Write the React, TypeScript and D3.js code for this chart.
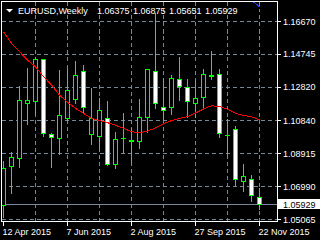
import React from "react";
import * as d3 from "d3";

const symbolTitle = "EURUSD,Weekly";

const weeks = [
  "2015-04-12", "2015-04-19", "2015-04-26", "2015-05-03", "2015-05-10", "2015-05-17",
  "2015-05-24", "2015-05-31", "2015-06-07", "2015-06-14", "2015-06-21", "2015-06-28",
  "2015-07-05", "2015-07-12", "2015-07-19", "2015-07-26", "2015-08-02", "2015-08-09",
  "2015-08-16", "2015-08-23", "2015-08-30", "2015-09-06", "2015-09-13", "2015-09-20",
  "2015-09-27", "2015-10-04", "2015-10-11", "2015-10-18", "2015-10-25", "2015-11-01",
  "2015-11-08", "2015-11-15", "2015-11-22",
];

const openPrices = [
  1.0590, 1.0819, 1.0862, 1.1185, 1.1196, 1.1443, 1.1003, 1.0980, 1.1097, 1.1208,
  1.1374, 1.1003, 1.0991, 1.1097, 1.0827, 1.0979, 1.0971, 1.0964, 1.1106, 1.1374,
  1.1165, 1.1161, 1.1325, 1.1278, 1.1185, 1.1220, 1.1353, 1.1356, 1.0998, 1.1032,
  1.0729, 1.0739, 1.06375,
];
const highPrices = [
  1.0848, 1.0898, 1.1286, 1.1390, 1.1458, 1.1446, 1.1009, 1.1380, 1.1390, 1.1433,
  1.1409, 1.1276, 1.1214, 1.1200, 1.1015, 1.1126, 1.1038, 1.1208, 1.1386, 1.1712,
  1.1331, 1.1351, 1.1458, 1.1325, 1.1321, 1.1384, 1.1491, 1.1384, 1.1091, 1.1052,
  1.0829, 1.0764, 1.06875,
];
const lowPrices = [
  1.0520, 1.0657, 1.0813, 1.1062, 1.1124, 1.0995, 1.0813, 1.0886, 1.1087, 1.1185,
  1.1135, 1.0946, 1.0915, 1.0825, 1.0807, 1.0892, 1.0842, 1.0921, 1.1015, 1.1155,
  1.1087, 1.1120, 1.1204, 1.1106, 1.1106, 1.1165, 1.1325, 1.0989, 1.0888, 1.0706,
  1.0672, 1.0614, 1.05651,
];
const closePrices = [
  1.0804, 1.0870, 1.1202, 1.1202, 1.1443, 1.1012, 1.0985, 1.1114, 1.1261, 1.1351,
  1.1161, 1.1097, 1.1144, 1.0827, 1.0975, 1.0980, 1.0966, 1.1106, 1.1384, 1.1185,
  1.1144, 1.1331, 1.1284, 1.1200, 1.1214, 1.1356, 1.1342, 1.1009, 1.0997, 1.0741,
  1.0759, 1.0647, 1.05929,
];

const maValues = [
  1.1604, 1.1536, 1.1487, 1.1438, 1.1399, 1.1341, 1.1292, 1.1233, 1.1191, 1.1155,
  1.1126, 1.1097, 1.1083, 1.1071, 1.1056, 1.1038, 1.1018, 1.1012, 1.1022, 1.1040,
  1.1065, 1.1083, 1.1097, 1.1106, 1.1128, 1.1151, 1.1171, 1.1165, 1.1151, 1.1126,
  1.1114, 1.1106, 1.1087,
];

const blueWeeks = ["2015-11-15", "2015-11-22"];
const blueValues = [1.1788, 1.1751];

const priceTicks = [1.1667, 1.14745, 1.1282, 1.1084, 1.08915, 1.0699, 1.05065];
const dateTickWeeks = ["2015-04-12", "2015-06-07", "2015-08-02", "2015-09-27", "2015-11-22"];
const dateTickLabels = ["12 Apr 2015", "7 Jun 2015", "2 Aug 2015", "27 Sep 2015", "22 Nov 2015"];
const gridWeeks = [
  "2015-05-10", "2015-06-07", "2015-07-05", "2015-08-02",
  "2015-08-30", "2015-09-27", "2015-10-25", "2015-11-22",
];

const W = 320;
const H = 240;
const L = 1.5;
const T = 1.5;
const R = 277.5;
const B = 221.5;
const FONT = "'Liberation Sans', Arial, sans-serif";
const GRID = "#778899";
const CANDLE = "#00ff00";

export default function App() {
  const x = d3.scalePoint<string>().domain(weeks).range([3, 259]);
  const y = d3.scaleLinear().domain([1.05065, 1.1667]).range([219, 21]);
  const px = (v: number) => Math.round(v) + 0.5;

  const maLine = d3
    .line<number>()
    .x((_, i) => px(x(weeks[i]) as number))
    .y((d) => y(d));
  const blueLine = d3
    .line<number>()
    .x((_, i) => px(x(blueWeeks[i]) as number))
    .y((d) => y(d));

  const last = weeks.length - 1;
  const lastPrice = closePrices[last];
  const ohlc = [openPrices[last], highPrices[last], lowPrices[last], closePrices[last]];

  return (
    <svg
      width={W}
      height={H}
      style={{ position: "absolute", left: 0, top: 0, display: "block", background: "#000" }}
    >
      <defs>
        <clipPath id="plot">
          <rect x={2} y={2} width={275} height={219} />
        </clipPath>
      </defs>
      <rect x={0} y={0} width={W} height={H} fill="#000" />

      {/* grid */}
      <g shapeRendering="crispEdges">
        {priceTicks.map((p) => (
          <line
            key={"h" + p}
            x1={L}
            x2={R}
            y1={px(y(p))}
            y2={px(y(p))}
            stroke={GRID}
            strokeDasharray="4,3"
          />
        ))}
        {gridWeeks.map((w) => (
          <line
            key={"v" + w}
            x1={px(x(w) as number)}
            x2={px(x(w) as number)}
            y1={T}
            y2={B}
            stroke={GRID}
            strokeDasharray="4,3"
          />
        ))}
        <line x1={L} x2={R} y1={px(y(lastPrice))} y2={px(y(lastPrice))} stroke={GRID} />
      </g>

      {/* candles */}
      <g clipPath="url(#plot)" shapeRendering="crispEdges">
        {weeks.map((w, i) => {
          const cx = Math.round(x(w) as number);
          const o = openPrices[i];
          const c = closePrices[i];
          const top = Math.round(y(Math.max(o, c)));
          const bot = Math.round(y(Math.min(o, c)));
          const bull = c >= o;
          return (
            <g key={w}>
              <line
                x1={cx + 0.5}
                x2={cx + 0.5}
                y1={Math.round(y(highPrices[i]))}
                y2={Math.round(y(lowPrices[i])) + 1}
                stroke={CANDLE}
              />
              {bot - top >= 1 ? (
                <rect
                  x={cx - 2 + 0.5}
                  y={top + 0.5}
                  width={4}
                  height={bot - top}
                  fill={bull ? "#000" : "#fff"}
                  stroke={CANDLE}
                />
              ) : (
                <line x1={cx - 2} x2={cx + 3} y1={top + 0.5} y2={top + 0.5} stroke={CANDLE} />
              )}
            </g>
          );
        })}
      </g>

      {/* moving averages */}
      <g clipPath="url(#plot)">
        <path d={maLine(maValues) || ""} fill="none" stroke="#ff0000" strokeWidth={1} shapeRendering="crispEdges" />
        <path d={blueLine(blueValues) || ""} fill="none" stroke="#1a3cff" strokeWidth={1} shapeRendering="crispEdges" />
      </g>

      {/* frame */}
      <rect x={L} y={T} width={R - L} height={B - T} fill="none" stroke="#fff" shapeRendering="crispEdges" />

      {/* right axis */}
      <g fontFamily={FONT} fontSize={9} fill="#fff">
        {priceTicks.map((p) => (
          <g key={"t" + p}>
            <line x1={R} x2={281} y1={px(y(p))} y2={px(y(p))} stroke="#fff" shapeRendering="crispEdges" />
            <text x={283} y={y(p) + 3.5}>
              {p.toFixed(5)}
            </text>
          </g>
        ))}
        <rect x={278} y={Math.round(y(lastPrice)) - 5} width={42} height={10} fill="#fff" />
        <text x={283} y={y(lastPrice) + 3.3} fill="#000">
          {lastPrice.toFixed(5)}
        </text>
      </g>

      {/* bottom axis */}
      <g fontFamily={FONT} fontSize={9} fill="#fff">
        {dateTickWeeks.map((w, i) => (
          <g key={"d" + w}>
            <line
              x1={px(x(w) as number)}
              x2={px(x(w) as number)}
              y1={B}
              y2={226}
              stroke="#fff"
              shapeRendering="crispEdges"
            />
            <text x={(x(w) as number) - 0.5} y={235}>
              {dateTickLabels[i]}
            </text>
          </g>
        ))}
      </g>

      {/* title */}
      <path d="M6,9 L13,9 L9.5,12.5 Z" fill="#fff" />
      <g fontFamily={FONT} fontSize={9} fill="#fff">
        <text x={18} y={14}>
          {symbolTitle}
        </text>
        {ohlc.map((v, i) => (
          <text key={"o" + i} x={97 + 36 * i} y={14}>
            {v.toFixed(5)}
          </text>
        ))}
      </g>
    </svg>
  );
}
